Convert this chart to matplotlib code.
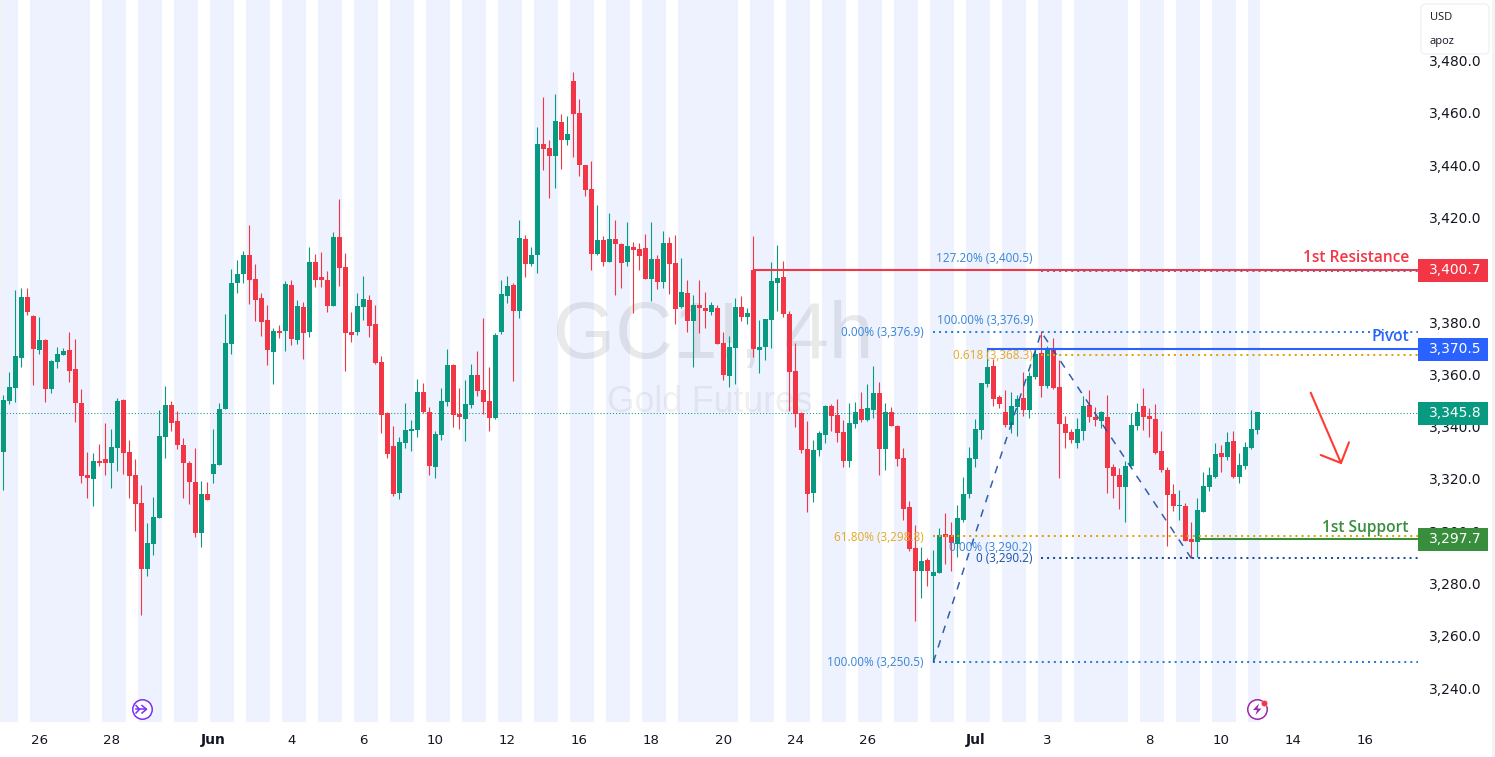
import matplotlib
matplotlib.use("Agg")
import matplotlib.pyplot as plt
from matplotlib.patches import FancyBboxPatch, Rectangle, Polygon
import numpy as np

opens = [3330.6,3350.1,3355.1,3366.6,3389.9,3382.6,3369.6,3373.5,3354.7,3365.0,
3367.7,3369.6,3362.4,3349.4,3321.8,3320.3,3327.2,3328.0,3326.4,3332.2,
3350.5,3330.6,3321.8,3311.1,3285.9,3295.5,3305.4,3336.4,3348.6,3342.5,
3333.3,3326.4,3319.2,3299.7,3314.6,3322.2,3325.7,3347.1,3371.9,3395.3,
3398.7,3406.0,3396.8,3389.5,3381.1,3368.9,3376.9,3376.9,3394.5,3373.5,
3386.1,3376.5,3403.3,3397.6,3396.4,3386.5,3412.9,3401.4,3376.6,3376.6,
3386.1,3388.8,3379.6,3365.1,3345.6,3333.0,3315.0,3334.1,3338.7,3339.1,
3353.6,3346.0,3325.0,3337.2,3349.8,3364.0,3345.2,3343.3,3348.7,3360.1,
3354.4,3350.2,3343.7,3376.6,3390.4,3394.6,3384.6,3412.2,3402.6,3406.0,
3448.5,3446.9,3443.9,3456.9,3450.0,3472.6,3460.3,3440.4,3431.3,3406.4,
3411.8,3403.4,3412.2,3410.2,3403.4,3409.1,3408.3,3408.7,3396.9,3404.5,
3395.7,3410.6,3403.0,3386.1,3391.5,3380.8,3386.9,3385.8,3384.2,3385.8,
3372.4,3359.8,3370.5,3386.2,3382.3,3400.3,3369.7,3370.9,3381.2,3395.3,
3397.6,3383.5,3361.7,3345.6,3331.9,3315.0,3331.5,3337.2,3348.3,3344.9,
3338.4,3327.3,3341.4,3347.2,3342.9,3346.8,3353.3,3331.9,3346.0,3340.6,
3328.4,3309.7,3294.0,3285.2,3289.4,3283.3,3284.4,3299.4,3299.0,3295.5,
3304.7,3314.6,3328.0,3339.1,3356.7,3363.6,3351.7,3346.0,3341.0,3347.9,
3351.3,3346.8,3359.4,3368.6,3355.9,3369.7,3355.6,3341.4,3338.3,3334.1,
3338.7,3348.7,3344.1,3342.6,3344.1,3325.0,3321.9,3317.3,3325.3,3340.6,
3348.3,3344.5,3343.3,3331.1,3323.8,3314.6,3310.0,3310.0,3297.4,3296.3,
3307.8,3317.3,3321.1,3330.3,3328.8,3334.9,3321.1,3325.3,3332.2,3339.1]

closes = [3350.5,3355.5,3367.3,3389.9,3384.2,3370.0,3373.5,3354.7,3365.4,3368.1,
3369.3,3361.6,3349.4,3321.5,3320.7,3327.2,3326.4,3326.4,3332.5,3350.1,
3330.2,3321.5,3310.7,3285.9,3295.8,3305.8,3336.7,3348.6,3341.7,3333.3,
3326.4,3319.2,3299.7,3314.6,3312.3,3326.0,3347.1,3372.3,3395.3,3398.7,
3406.0,3396.4,3388.8,3380.3,3369.6,3376.9,3376.1,3394.9,3373.8,3386.5,
3376.1,3403.3,3396.4,3396.4,3386.5,3412.9,3401.0,3376.1,3375.4,3386.5,
3389.2,3378.9,3364.7,3344.8,3329.9,3314.6,3334.5,3339.1,3339.5,3353.6,
3346.0,3325.3,3337.6,3350.2,3364.0,3344.8,3344.1,3349.1,3360.1,3354.0,
3349.8,3343.7,3375.4,3391.1,3394.2,3384.6,3412.5,3402.6,3406.0,3448.5,
3446.6,3443.9,3457.3,3450.0,3452.3,3460.0,3440.4,3430.9,3406.4,3411.8,
3403.4,3412.2,3410.2,3403.0,3409.5,3407.9,3405.6,3396.9,3404.5,3395.7,
3410.6,3402.6,3385.4,3391.9,3380.8,3386.9,3385.8,3384.6,3386.9,3372.0,
3360.2,3370.9,3386.2,3382.3,3383.9,3370.1,3370.9,3381.6,3396.1,3397.2,
3383.5,3361.3,3345.2,3331.5,3314.6,3331.5,3338.0,3348.3,3344.5,3338.0,
3327.3,3341.8,3346.0,3342.9,3347.5,3353.3,3331.9,3346.0,3340.6,3328.0,
3308.9,3293.6,3285.2,3289.0,3285.2,3284.8,3299.0,3298.2,3295.9,3305.5,
3314.6,3328.4,3339.5,3357.1,3363.2,3351.0,3349.1,3341.0,3348.3,3351.0,
3346.8,3359.8,3368.2,3355.9,3370.1,3355.2,3341.4,3338.0,3335.3,3339.5,
3348.3,3344.1,3342.9,3346.0,3324.6,3321.5,3317.3,3325.3,3341.0,3346.0,
3344.1,3343.3,3330.3,3323.8,3314.3,3310.0,3310.4,3296.7,3296.3,3308.5,
3317.7,3321.9,3329.9,3328.8,3334.5,3321.1,3325.7,3332.6,3339.5,3345.8]

highs = [3352.4,3361.2,3392.6,3393.3,3393.3,3383.0,3382.3,3373.8,3365.8,3370.8,
3370.4,3376.5,3373.8,3354.7,3330.6,3330.2,3333.7,3341.7,3339.4,3351.3,
3350.9,3335.2,3328.0,3318.0,3303.5,3313.4,3346.7,3355.9,3350.1,3346.3,
3336.0,3327.2,3332.2,3319.5,3319.2,3339.4,3349.4,3383.4,3400.6,3404.1,
3407.5,3417.5,3402.5,3391.4,3386.8,3378.0,3379.2,3396.0,3396.4,3388.8,
3388.0,3409.0,3406.3,3407.1,3399.8,3414.8,3427.5,3406.8,3384.2,3391.5,
3398.0,3390.7,3386.9,3367.4,3346.0,3340.6,3336.4,3349.4,3342.9,3358.6,
3357.1,3347.9,3338.7,3355.2,3370.1,3364.4,3355.2,3358.2,3364.4,3369.3,
3381.9,3363.2,3376.2,3396.5,3398.0,3395.3,3419.4,3413.7,3409.1,3455.0,
3466.5,3450.0,3467.6,3460.0,3459.2,3476.0,3465.7,3440.4,3442.0,3425.2,
3413.3,3422.1,3419.4,3410.6,3418.7,3411.0,3410.6,3414.1,3418.7,3406.0,
3415.2,3412.9,3413.7,3404.9,3396.5,3390.7,3396.5,3391.9,3388.1,3386.9,
3376.6,3375.1,3389.6,3390.4,3385.8,3413.3,3381.2,3381.6,3403.4,3409.9,
3403.7,3384.6,3372.4,3346.0,3342.6,3335.3,3338.7,3348.7,3349.1,3351.0,
3342.9,3349.4,3349.8,3353.7,3356.7,3363.6,3357.5,3349.4,3347.9,3341.0,
3332.2,3312.0,3302.8,3294.4,3290.2,3293.2,3301.6,3307.4,3303.9,3310.4,
3321.1,3332.6,3343.3,3357.1,3370.1,3366.3,3352.5,3354.4,3353.6,3352.5,
3361.3,3361.3,3369.7,3376.9,3371.2,3374.3,3365.9,3344.5,3339.5,3343.7,
3352.1,3354.4,3347.9,3346.4,3352.5,3326.1,3324.6,3327.3,3345.6,3349.4,
3355.2,3347.5,3349.1,3338.7,3325.0,3318.5,3316.2,3311.2,3303.9,3313.1,
3323.1,3325.0,3334.1,3333.4,3338.3,3338.7,3330.3,3334.5,3346.8,3346.0]

lows = [3316.1,3349.0,3349.8,3363.1,3383.0,3356.3,3368.1,3349.8,3353.2,3362.8,
3367.7,3357.4,3342.1,3318.8,3313.0,3310.0,3325.3,3321.8,3316.9,3323.4,
3322.2,3313.0,3300.4,3268.3,3283.2,3291.2,3305.4,3328.3,3338.7,3331.8,
3313.0,3310.7,3298.1,3294.3,3312.3,3318.8,3325.7,3347.1,3368.1,3391.4,
3395.3,3387.2,3380.7,3375.0,3363.9,3356.6,3374.2,3369.3,3371.5,3371.9,
3366.2,3374.6,3393.7,3393.7,3384.2,3386.5,3394.1,3361.6,3372.8,3375.4,
3381.2,3374.7,3364.4,3338.0,3328.4,3313.9,3312.7,3332.2,3331.1,3336.4,
3345.6,3321.9,3320.8,3335.3,3348.3,3340.3,3339.5,3334.9,3347.5,3352.1,
3345.2,3338.7,3343.3,3375.8,3387.7,3357.9,3381.9,3397.6,3401.8,3399.1,
3438.5,3427.8,3431.7,3438.9,3448.1,3443.5,3436.2,3428.6,3400.3,3406.0,
3401.8,3403.4,3390.7,3393.4,3401.8,3383.9,3400.3,3396.9,3388.4,3393.0,
3393.4,3391.1,3379.6,3385.8,3376.6,3363.2,3376.2,3378.1,3383.1,3372.0,
3358.2,3355.6,3356.7,3380.8,3379.7,3367.0,3360.9,3365.9,3370.5,3384.6,
3382.3,3346.4,3340.3,3330.3,3307.8,3311.6,3329.2,3334.1,3338.7,3334.5,
3325.0,3325.0,3339.9,3342.2,3342.6,3343.7,3321.9,3323.8,3340.6,3325.4,
3304.7,3292.9,3266.1,3274.9,3279.5,3250.5,3284.4,3287.9,3285.2,3290.6,
3303.9,3313.1,3325.0,3335.7,3355.6,3348.3,3347.5,3340.3,3338.0,3336.8,
3344.5,3343.7,3358.6,3351.7,3355.2,3354.8,3320.8,3332.2,3334.1,3332.2,
3335.3,3342.2,3340.6,3339.9,3315.0,3313.1,3308.9,3303.9,3325.3,3339.1,
3339.1,3336.4,3329.9,3323.1,3294.8,3308.1,3304.7,3296.7,3290.2,3290.5,
3307.8,3315.8,3320.8,3323.1,3327.6,3320.8,3318.8,3324.2,3331.8,3337.6]

# session shading, in bar edges
session_starts = [0,5,17,23,29,35,41,47,53,59,65,71,77,83,89,95,101,107,113,125,131,137,143,149,155,161,167,173,179,190,196,202,208]
session_ends   = [3,15,21,27,33,39,45,51,57,63,69,75,81,87,93,99,105,111,123,129,135,141,147,153,159,165,171,177,188,194,200,206,210]

price_ticks = [3480,3460,3440,3420,3400,3380,3360,3340,3320,3300,3280,3260,3240]
date_labels = ['26','28','Jun','4','6','10','12','16','18','20','24','26','Jul','3','8','10','14','16']
date_bars   = [6,18,35,48,60,72,84,96,108,120,132,144,162,174,191,203,215,227]

last_price = 3345.8
resistance, pivot, support = 3400.7, 3370.5, 3297.7
fib_high, fib_low, fib_ext, fib_ret, fib_ret2, fib_base = 3376.9, 3290.2, 3400.5, 3368.3, 3298.6, 3250.5
bar_low, bar_high, bar_end = 155, 173, 198

GREEN, RED = '#089981', '#f23645'
BLUE, DGREEN = '#2962ff', '#388e3c'
FIB, ORANGE, NAVY = '#2a7fd8', '#e5a100', '#1a4ea5'
TXT = '#131722'

def X(px):
    return (px - 3.33) / 6.0
def Y(py):
    return 3480 - (py - 63.1) * 0.3832
def PY(p):
    return 63.1 + (3480 - p) / 0.3832
def read_cal(v):
    # the candle readings were taken against the tick text; this aligns them with the printed level prices
    v = np.array(v)
    return v + 0.613 - 0.00209 * (3480 - v)

W, H = 1495, 757
fig = plt.figure(figsize=(W / 100, H / 100), dpi=100)
ax = fig.add_axes([0, 0, 1, 1])
ax.set_xlim(X(0), X(W))
ax.set_ylim(Y(H), Y(0))
ax.axis('off')
plt.rcParams['font.family'] = ['Open Sans', 'DejaVu Sans']
ASP = 0.3832 * 6

PANE_R, PANE_B = 1418, 722

# session bands
for s, e in zip(session_starts, session_ends):
    ax.add_patch(Rectangle((s - 0.555 if s else X(2), Y(PANE_B)),
                           (e - s) if s else (e - 0.555 - X(2)), Y(0) - Y(PANE_B),
                           fc='#eef2fe', ec='none', zorder=1))
ax.add_patch(Rectangle((X(0), Y(PANE_B)), X(2) - X(0), Y(0) - Y(PANE_B), fc='#f1f2f6', ec='none', zorder=1))
ax.add_patch(Rectangle((X(1492), Y(H)), X(W) - X(1492), Y(0) - Y(H), fc='#f3f4f6', ec='none', zorder=1))

# watermark
ax.text(X(713), Y(338), 'GC1!, 4h', fontsize=57.6, family='Liberation Sans', color='#2a2e39', alpha=0.10,
        ha='center', va='center', zorder=2)
ax.text(X(710), Y(402), 'Gold Futures', fontsize=25.7, family='Liberation Sans', color='#2a2e39', alpha=0.07,
        ha='center', va='center', zorder=2)

# last price line
ax.plot([X(0), X(PANE_R)], [last_price, last_price], color=GREEN, lw=0.75,
        ls=(0, (1, 2)), zorder=3, dash_capstyle='butt', snap=True)

# candles
n = len(closes)
xs = np.arange(n)
o, c, hi, lo = map(read_cal, (opens, closes, highs, lows))
cols = [GREEN if cc >= oo else RED for oo, cc in zip(o, c)]
ax.vlines(xs, lo, hi, colors=cols, lw=0.8, zorder=4)
ax.bar(xs, np.abs(c - o), bottom=np.minimum(o, c), width=5 / 6, color=cols, lw=0, zorder=5)

def dotted(x0, x1, y, col, z=6):
    ax.plot([x0, x1], [y, y], color=col, lw=1.45, ls=(0, (1, 2)), dash_capstyle='butt', zorder=z, snap=True)

dotted(bar_high, X(PANE_R), fib_ext, FIB)
dotted(bar_low, X(PANE_R), fib_high, FIB)
dotted(bar_low, X(PANE_R), fib_base, FIB)
dotted(bar_high, X(PANE_R), fib_ret, ORANGE)
dotted(bar_low, X(PANE_R), fib_ret2, ORANGE)
dotted(bar_high, X(PANE_R), fib_low, NAVY)

# trend dashes
ax.plot([bar_low, bar_high, bar_end], [fib_base, fib_high, fib_low], color=NAVY, lw=1.1,
        ls=(0, (5, 5)), zorder=6, alpha=0.9)

# level lines
ax.plot([125, X(PANE_R)], [resistance] * 2, color=RED, lw=1.5, zorder=7, solid_capstyle='butt', snap=True)
ax.plot([164, X(PANE_R)], [pivot] * 2, color=BLUE, lw=1.5, zorder=7, solid_capstyle='butt', snap=True)
ax.plot([199, X(PANE_R)], [support] * 2, color=DGREEN, lw=1.5, zorder=7, solid_capstyle='butt', snap=True)

# fib labels
fs = 8.5
def fl(px, py, s, col):
    ax.text(X(px), Y(py + 0.5), s, color=col, fontsize=fs, ha='right', va='center', zorder=8)
fl(1033, 258, '127.20% (3,400.5)', '#3584d8')
fl(1033, 320, '100.00% (3,376.9)', '#3584d8')
fl(924, 332, '0.00% (3,376.9)', '#3584d8')
fl(1033, 355, '0.618 (3,368.3)', '#e5a823')
fl(924, 537, '61.80% (3,298.8)', '#e5a823')
fl(1032, 547, '0.00% (3,290.2)', '#3584d8')
fl(1032, 558, '0 (3,290.2)', NAVY)
fl(924, 662, '100.00% (3,250.5)', '#3584d8')

# level labels
for py, s, col in [(257, '1st Resistance', RED), (336, 'Pivot', BLUE), (527, '1st Support', DGREEN)]:
    ax.text(X(1409), Y(py + 1), s, color=col, fontsize=11.2, weight='semibold', ha='right', va='center', zorder=8)

# price axis
AXF = 'DejaVu Sans'
for t in price_ticks:
    ax.text(X(1455), Y(62 + (3480 - t) * 2.615), f'{t:,.1f}', color=TXT, fontsize=10,
            family=AXF, ha='center', va='center', zorder=8)

# price tags
for p, col in [(resistance, RED), (pivot, BLUE), (last_price, GREEN), (support, DGREEN)]:
    yc = PY(p) + 0.4
    ax.add_patch(FancyBboxPatch((X(1418), Y(yc + 11.4)), X(1488) - X(1418), Y(yc - 11.4) - Y(yc + 11.4),
                                boxstyle='square,pad=0', fc=col, ec='none', zorder=9))
    ax.text(X(1455), Y(yc - 0.3), f'{p:,.1f}', color='white', fontsize=10, family=AXF,
            ha='center', va='center', zorder=10)

# date axis
for lab, b in zip(date_labels, date_bars):
    bold = lab in ('Jun', 'Jul')
    ax.text(b + 0.0, Y(740), lab, color=TXT, fontsize=10 if bold else 9.6, family=AXF, ha='center', va='center',
            weight='bold' if bold else 'normal', zorder=8)

# currency box
ax.add_patch(FancyBboxPatch((X(1421), Y(54)), X(1489) - X(1421), Y(4) - Y(54),
                            boxstyle='round,pad=0,rounding_size=0.8', mutation_aspect=ASP,
                            fc='white', ec='#eceef2', lw=0.8, zorder=11))
ax.text(X(1430), Y(17.5), 'USD', color=TXT, fontsize=8, ha='left', va='center', zorder=12)
ax.text(X(1430), Y(41.5), 'apoz', color=TXT, fontsize=8, ha='left', va='center', zorder=12)

# drawn arrow
ax.plot([X(1310.7), X(1341)], [Y(392.7), Y(463)], color='#ff3b30', lw=1.5, zorder=8, solid_capstyle='round')
ax.plot([X(1320.7), X(1341), X(1349)], [Y(455), Y(463), Y(442.3)], color='#ff3b30', lw=1.5, zorder=8,
        solid_joinstyle='round', solid_capstyle='round')

# icons
PUR = '#7b2ff7'
ax.plot([X(141.7)], [Y(709.3)], 'o', ms=14, mfc='white', mec=PUR, mew=1.1, zorder=9)
ax.plot([X(136.5), X(146.5)], [Y(709.3), Y(709.3)], color=PUR, lw=1.1, zorder=10)
ax.plot([X(142), X(146.5), X(142)], [Y(705.5), Y(709.3), Y(713)], color=PUR, lw=1.1, zorder=10)
ax.plot([X(136), X(139.5), X(136)], [Y(705.5), Y(709.3), Y(713)], color=PUR, lw=1.1, zorder=10)
PU2 = '#9c27b0'
ax.plot([X(1257.3)], [Y(709.3)], 'o', ms=14, mfc='white', mec=PU2, mew=1.1, zorder=9)
ax.add_patch(Polygon([[X(1259), Y(703.5)], [X(1253), Y(710)], [X(1257), Y(710)], [X(1255.5), Y(715)],
                      [X(1261.5), Y(708.5)], [X(1257.5), Y(708.5)]], closed=True, fc=PU2, ec='none', zorder=10))
ax.plot([X(1264.3)], [Y(702.5)], 'o', ms=4.6, mfc='#f23645', mec='white', mew=0.3, zorder=11)

fig.savefig('out.png', dpi=100, facecolor='white')
